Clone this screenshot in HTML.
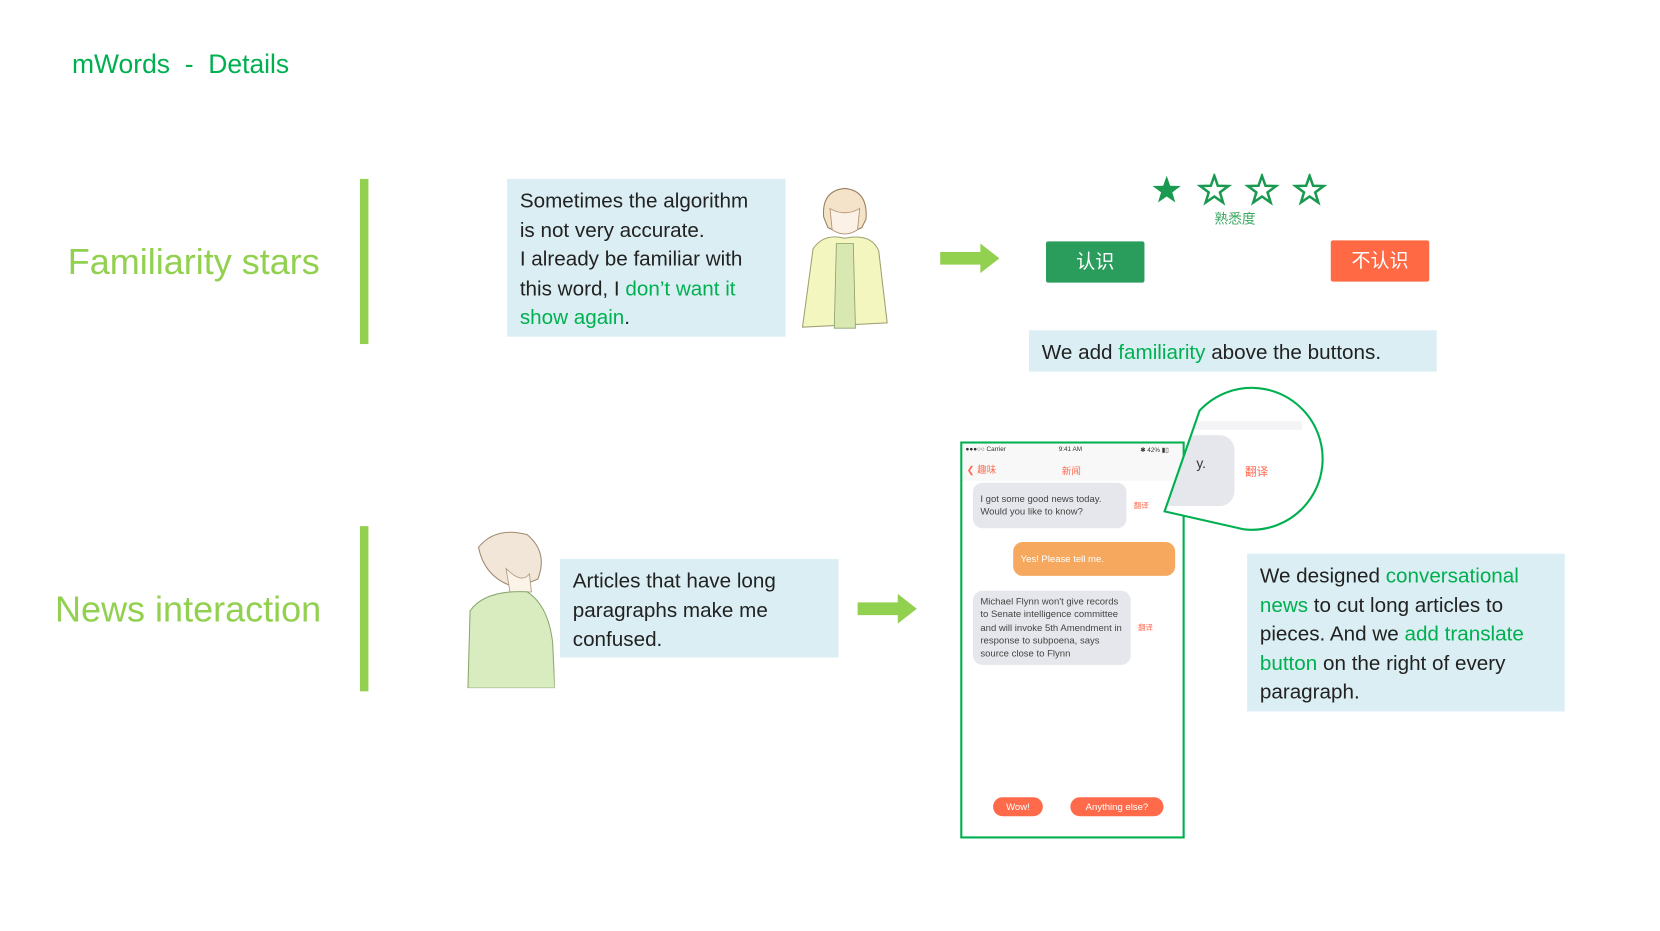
<!DOCTYPE html>
<html><head><meta charset="utf-8"><style>
html,body{margin:0;padding:0;background:#fff;width:1660px;height:930px;overflow:hidden}
#c{position:absolute;left:0;top:0;width:1568px;height:879px;transform:scale(1.0587);transform-origin:0 0;font-family:"Liberation Sans","Noto Sans CJK SC",sans-serif}
.a{position:absolute}
.g{color:#00b050}
.box{position:absolute;background:#daeef3;color:#222;font-size:19.5px;line-height:27.5px;padding:8px 12px 5px;box-sizing:border-box;white-space:nowrap}
.bar{position:absolute;background:#92d050;width:8px}
.hd{position:absolute;color:#92d050;font-size:34px;white-space:nowrap}
.bub{position:absolute;background:#e6e7ec;border-radius:9px;font-size:9px;line-height:12.3px;color:#444;box-sizing:border-box;padding:5px 7px}
.fy{position:absolute;color:#ff6a50;font-size:7px}
.btn{position:absolute;background:#ff6a4a;color:#fff;border-radius:9px;font-size:9px;text-align:center;line-height:18px;height:18px}
</style></head><body><div id="c">
<div class="a g" style="left:68px;top:47px;font-size:25px;white-space:nowrap">mWords &nbsp;- &nbsp;Details</div>

<div class="hd" style="left:64px;top:229px">Familiarity stars</div>
<div class="bar" style="left:340px;top:169px;height:156px"></div>
<div class="box" style="left:479px;top:169px;width:263px;height:149px">Sometimes the algorithm<br>is not very accurate.<br>I already be familiar with<br>this word, I <span class="g">don’t want it</span><br><span class="g">show again</span>.</div>
<svg class="a" style="left:748px;top:175px" width="98" height="137" viewBox="0 0 98 137">
<path d="M30 30 Q28 5 50 3 Q72 5 70 32 L66 40 Q50 48 34 40Z" fill="#f4e3c8" stroke="#9a8060" stroke-width="1"/>
<path d="M36 22 Q50 30 64 22 L62 42 Q50 50 38 42Z" fill="#fbf1e6" stroke="#b09070" stroke-width=".8"/>
<path d="M20 60 Q30 45 50 50 Q75 45 82 62 L90 130 L10 134 Z" fill="#f4f6c0" stroke="#a0a070" stroke-width="1"/>
<path d="M42 55 L58 55 L60 135 L40 135Z" fill="#d8e8b0" stroke="#8aa070" stroke-width=".8"/>
</svg>
<svg class="a" style="left:888px;top:230px" width="57" height="29"><path d="M0 8 H38 V0 L56 14 L38 28 V20 H0Z" fill="#92d050"/></svg>
<svg class="a" style="left:1086px;top:164px" width="170" height="34" viewBox="0 0 170 34">
<defs><path id="s" d="M0,-14 L3.3,-4.5 L13.3,-4.3 L5.3,1.7 L8.2,11.3 L0,5.6 L-8.2,11.3 L-5.3,1.7 L-13.3,-4.3 L-3.3,-4.5Z"/></defs>
<use href="#s" x="16" y="16" fill="#1a9a50"/>
<use href="#s" x="61" y="16" fill="none" stroke="#1a9a50" stroke-width="2.4"/>
<use href="#s" x="106" y="16" fill="none" stroke="#1a9a50" stroke-width="2.4"/>
<use href="#s" x="151" y="16" fill="none" stroke="#1a9a50" stroke-width="2.4"/>
</svg>
<div class="a" style="left:1147px;top:196px;font-size:13px;color:#3aa860">熟悉度</div>
<div class="a" style="left:988px;top:228px;width:93px;height:39px;background:#2a9d5c;color:#fff;font-size:18px;text-align:center;line-height:39px;border-radius:2px">认识</div>
<div class="a" style="left:1257px;top:227px;width:93px;height:39px;background:#ff6a45;color:#fff;font-size:18px;text-align:center;line-height:39px;border-radius:2px">不认识</div>
<div class="box" style="left:972px;top:312px;width:385px;height:39px;padding-top:8px">We add <span class="g">familiarity</span> above the buttons.</div>

<div class="hd" style="left:52px;top:557px">News interaction</div>
<div class="bar" style="left:340px;top:497px;height:156px"></div>
<svg class="a" style="left:438px;top:497px" width="86" height="153" viewBox="0 0 86 153">
<path d="M14 20 Q30 0 60 8 Q80 25 70 50 L50 58 Q20 50 14 20Z" fill="#f2e6d8" stroke="#a08a70" stroke-width="1"/>
<path d="M40 40 Q55 55 62 45 L64 62 L44 64Z" fill="#fbf2e8" stroke="#b09a80" stroke-width=".8"/>
<path d="M6 80 Q20 60 60 62 Q80 75 84 110 L86 153 L4 153Z" fill="#d8ecc0" stroke="#8aa870" stroke-width="1"/>
</svg>
<div class="box" style="left:529px;top:528px;width:263px;height:93px">Articles that have long<br>paragraphs make me<br>confused.</div>
<svg class="a" style="left:810px;top:561px" width="57" height="29"><path d="M0 8 H38 V0 L56 14 L38 28 V20 H0Z" fill="#92d050"/></svg>

<div class="a" style="left:907px;top:417px;width:212px;height:375px;border:2px solid #00b050;box-sizing:border-box;background:#fff;overflow:hidden">
 <div class="a" style="left:0;top:0;width:210px;height:35px;background:#f8f8f8"></div>
 <div class="a" style="left:3px;top:3px;font-size:6px;color:#333">●●●○○ Carrier</div>
 <div class="a" style="left:91px;top:3px;font-size:6px;color:#333">9:41 AM</div>
 <div class="a" style="left:168px;top:3px;font-size:6px;color:#333">✱ 42% ▮▯</div>
 <div class="a" style="left:4px;top:18px;font-size:9px;color:#ff6a50">❮ 趣味</div>
 <div class="a" style="left:94px;top:19px;font-size:9px;color:#ff6a50">新闻</div>
</div>
<div class="bub" style="left:919px;top:456px;width:145px;height:43px;padding-top:9px">I got some good news today.<br>Would you like to know?</div>
<div class="fy" style="left:1071px;top:473px">翻译</div>
<div class="bub" style="left:957px;top:512px;width:153px;height:32px;background:#f6a95e;color:#fff;padding-top:10px">Yes! Please tell me.</div>
<div class="bub" style="left:919px;top:558px;width:149px;height:70px;padding-top:4px">Michael Flynn won't give records to Senate intelligence committee and will invoke 5th Amendment in response to subpoena, says source close to Flynn</div>
<div class="fy" style="left:1075px;top:588px">翻译</div>
<div class="btn" style="left:938px;top:753px;width:47px">Wow!</div>
<div class="btn" style="left:1011px;top:753px;width:88px">Anything else?</div>

<svg class="a" style="left:1090px;top:360px" width="170" height="150" viewBox="1090 360 170 150">
<defs><clipPath id="cp"><path d="M1133 388 A67 67 0 1 1 1175 500 L1100 483Z"/></clipPath></defs>
<path d="M1133 388 A67 67 0 1 1 1175 500 L1100 483Z" fill="#fff"/>
<g clip-path="url(#cp)">
<rect x="1090" y="398" width="140" height="8" fill="#f4f4f6"/>
<rect x="1080" y="411" width="86" height="67" rx="14" fill="#e6e7ec"/>
<text x="1130" y="442" font-size="13" fill="#333" font-family="Liberation Sans">y.</text>
<text x="1176" y="449" font-size="11" fill="#ff6a50" font-family="Noto Sans CJK SC">翻译</text>
</g>
<path d="M1133 388 A67 67 0 1 1 1175 500 L1100 483Z" fill="none" stroke="#00b050" stroke-width="2"/>
</svg>

<div class="box" style="left:1178px;top:523px;width:300px;height:149px">We designed <span class="g">conversational</span><br><span class="g">news</span> to cut long articles to<br>pieces. And we <span class="g">add translate</span><br><span class="g">button</span> on the right of every<br>paragraph.</div>
</div></body></html>
